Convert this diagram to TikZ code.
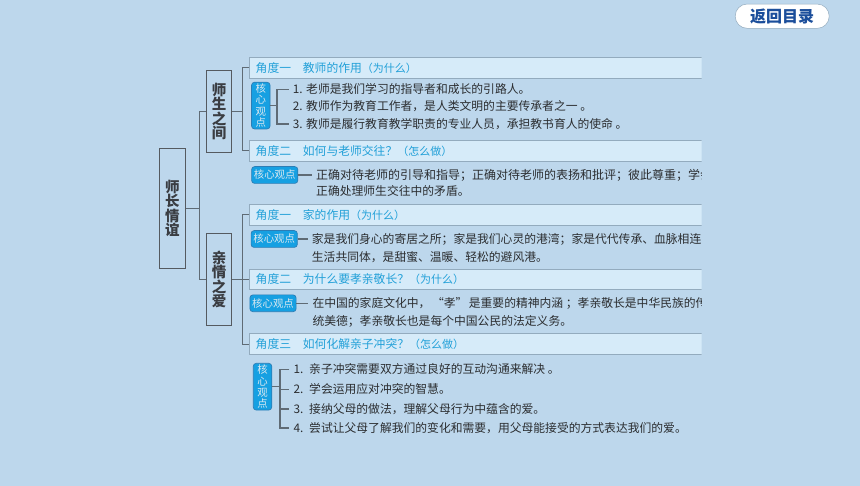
\documentclass[tikz,border=0pt]{standalone}
\usepackage{fontspec}
\newfontfamily\cjk{Noto Sans CJK SC}
\definecolor{bgblue}{HTML}{BDD7EC}
\definecolor{hdrfill}{HTML}{D6EBF9}
\definecolor{hdrline}{HTML}{93ABBE}
\definecolor{hdrtext}{HTML}{22A0D8}
\definecolor{treegray}{HTML}{5F6B75}
\definecolor{boxgray}{HTML}{555A60}
\definecolor{inkgray}{HTML}{3A3D42}
\definecolor{bodygray}{HTML}{2B2D30}
\definecolor{badgeblue}{HTML}{16A0E2}
\definecolor{badgeline}{HTML}{2C7DB5}
\definecolor{badgetext}{HTML}{DCE9F0}
\definecolor{btnblue}{HTML}{1B4E9B}

\tikzset{
  tree/.style={draw=treegray, line width=1.1pt},
  branchbox/.style={draw=boxgray, line width=1.3pt, fill=bgblue, align=center, inner sep=0pt, text=inkgray, font=\cjk\bfseries\fontsize{14.5}{14.5}\selectfont},
  hdr/.style={draw=hdrline, line width=0.8pt, fill=hdrfill, anchor=west, minimum width=452.4pt, minimum height=20.7pt, text width=440.4pt, inner xsep=6pt, align=left, text height=10.5pt, text depth=1.5pt, text=hdrtext, font=\cjk\fontsize{11.8}{14}\selectfont},
  badge/.style={draw=badgeline, line width=0.7pt, fill=badgeblue, rounded corners=3pt, inner sep=0pt, text=badgetext, font=\cjk\fontsize{10.4}{11.2}\selectfont},
  badgev/.style={badge, align=center, minimum width=18.5pt, minimum height=46.7pt},
  badgeh/.style={badge, minimum width=46.2pt, minimum height=16.8pt},
  body/.style={anchor=west, inner xsep=4pt, inner ysep=0pt, text height=10.5pt, text depth=1.5pt, text=bodygray, font=\cjk\fontsize{11.8}{14}\selectfont},
  backbtn/.style={draw=hdrline, line width=0.5pt, fill=white, rounded corners=12pt, minimum width=94pt, minimum height=24.3pt, inner sep=0pt, text=btnblue, font=\cjk\bfseries\fontsize{16}{16}\selectfont}
}
\newcommand{\askwhy}[1]{{\fontsize{11}{12}\selectfont #1}}

\begin{document}
\begin{tikzpicture}[x=1pt,y=1pt,yscale=-1,xscale=1]
\useasboundingbox (0,0) rectangle (860,486);
\fill [bgblue] (0,0) rectangle (860,486);

%Shape: Button
\node [backbtn] (back) at (782.2,16.2) {返回目录};

\begin{scope}
\clip (0,0) rectangle (701.7,486);

%Shape: Branch boxes
\node [branchbox, minimum width=26pt, minimum height=120pt] (root) at (172.3,208.3) {师\\长\\情\\谊};
\node [branchbox, minimum width=25pt, minimum height=81.6pt] (shisheng) at (219.2,111.5) {师\\生\\之\\间};
\node [branchbox, minimum width=24.6pt, minimum height=91.6pt] (qinqing) at (219,279.5) {亲\\情\\之\\爱};

%Shape: Header bands
\node [hdr] (h1) at (249.3,67.6) {角度一　教师的作用\askwhy{（为什么）}};
\node [hdr] (h2) at (249.3,150.8) {角度二　如何与老师交往？\askwhy{（怎么做）}};
\node [hdr] (h3) at (249.3,214.7) {角度一　家的作用\askwhy{（为什么）}};
\node [hdr] (h4) at (249.3,279.5) {角度二　为什么要孝亲敬长？\askwhy{（为什么）}};
\node [hdr] (h5) at (249.3,344.2) {角度三　如何化解亲子冲突？\askwhy{（怎么做）}};

%Shape: Badges
\node [badgev] (b1) at (260.8,105.6) {核\\心\\观\\点};
\node [badgeh] (b2) at (274.7,175) {核心观点};
\node [badgeh] (b3) at (274.2,239) {核心观点};
\node [badgeh] (b4) at (273,303.3) {核心观点};
\node [badgev] (b5) at (262.5,386.7) {核\\心\\观\\点};

% Text Node
\node [body] (i11) at (288.7,89.5) {1. 老师是我们学习的指导者和成长的引路人。};
\node [body] (i12) at (288.7,106) {2. 教师作为教育工作者，是人类文明的主要传承者之一 。};
\node [body] (i13) at (288.7,124) {3. 教师是履行教育教学职责的专业人员，承担教书育人的使命 。};
% Text Node
\node [body, font=\cjk\fontsize{12}{14}\selectfont] (t2a) at (312,175) {正确对待老师的引导和指导；正确对待老师的表扬和批评；彼此尊重；学会};
\node [body] (t2b) at (312,191) {正确处理师生交往中的矛盾。};
% Text Node
\node [body] (t3a) at (307.7,239) {家是我们身心的寄居之所；家是我们心灵的港湾；家是代代传承、血脉相连};
\node [body] (t3b) at (307.7,257) {生活共同体，是甜蜜、温暖、轻松的避风港。};
% Text Node
\node [body] (t4a) at (308.3,303.3) {在中国的家庭文化中，\hspace{1.5pt}“孝”\hspace{1.5pt}是重要的精神内涵 ；孝亲敬长是中华民族的传};
\node [body] (t4b) at (308.3,320.7) {统美德；孝亲敬长也是每个中国公民的法定义务。};
% Text Node
\node [body] (i51) at (289.3,369.5) {1.\enspace 亲子冲突需要双方通过良好的互动沟通来解决 。};
\node [body] (i52) at (289.3,389.5) {2.\enspace 学会运用应对冲突的智慧。};
\node [body] (i53) at (289.3,409) {3.\enspace 接纳父母的做法，理解父母行为中蕴含的爱。};
\node [body] (i54) at (289.3,428) {4.\enspace 尝试让父母了解我们的变化和需要，用父母能接受的方式表达我们的爱。};

%Shape: Connectors
\coordinate (f1) at (199.3,208.3);
\coordinate (f2) at (242.5,111.5);
\coordinate (f3) at (242.5,279.5);
\coordinate (k1) at (277,105.6);
\coordinate (k5) at (280,386.7);
\draw [tree] (root.east) -- (f1);
\draw [tree] (shisheng.west) -| (f1) |- (qinqing.west);
\draw [tree] (shisheng.east) -- (f2);
\draw [tree] (h1.west) -| (f2) |- (h2.west);
\draw [tree] (qinqing.east) -- (h4.west);
\draw [tree] (h3.west) -| (f3) |- (h5.west);
\draw [tree] (b1.east) -- (k1);
\draw [tree] (i11.west) -| (k1) |- (i13.west);
\draw [tree] (b2.east) -- (t2a.west);
\draw [tree] (b3.east) -- (t3a.west);
\draw [tree] (b4.east) -- (t4a.west);
\draw [tree] (b5.east) -- (k5);
\draw [tree] (i51.west) -| (k5) |- (i54.west);
\draw [tree] (k5 |- i52.west) -- (i52.west);
\draw [tree] (k5 |- i53.west) -- (i53.west);
\end{scope}

\end{tikzpicture}
\end{document}
